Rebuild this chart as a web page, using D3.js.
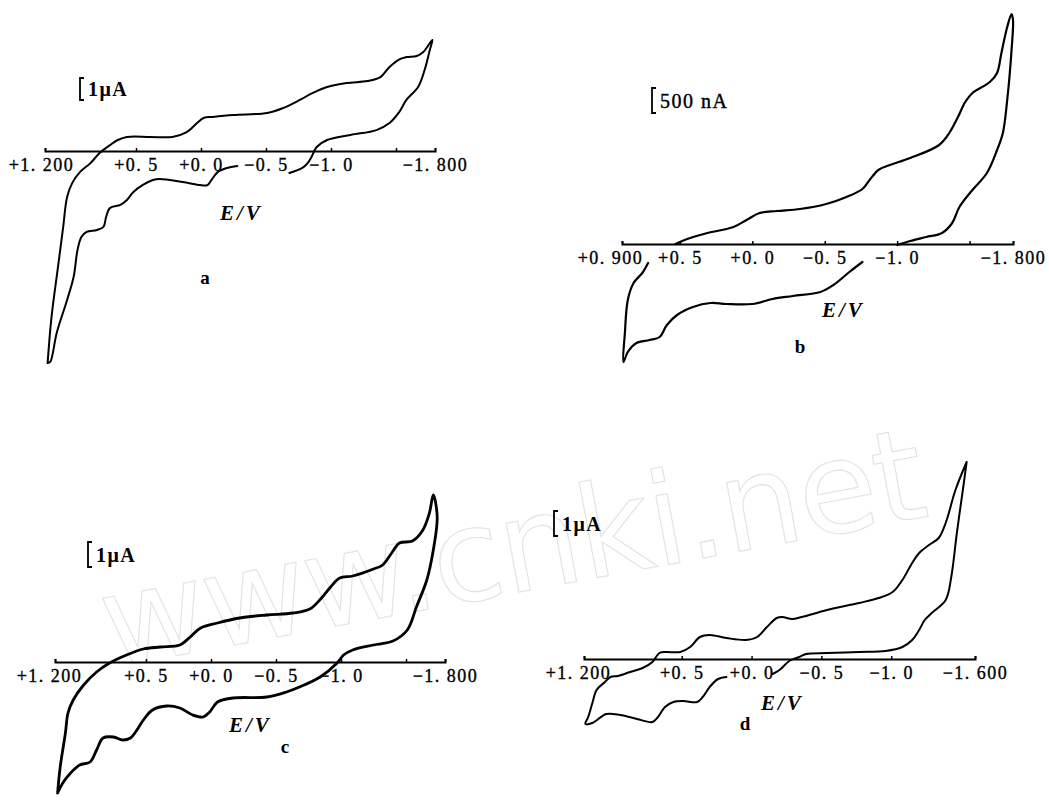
<!DOCTYPE html>
<html>
<head>
<meta charset="utf-8">
<script src="https://cdn.jsdelivr.net/npm/d3@7"></script>
<style>
body { margin: 0; background: #fff; }
</style>
</head>
<body>
<script>
// cyclic voltammograms, potential in V, current in uA; null = gap in the trace
const potentialA = [1.18, 1.15, 1.10, 1.06, 1.03, 0.99, 0.93, 0.85, 0.78, 0.70, 0.64, 0.57, 0.39, 0.22, 0.11, 0.03, -0.02, -0.09, -0.25, -0.51, -0.63, -0.76, -0.86, -0.97, -1.12, -1.28, -1.38, -1.45, -1.53, -1.58, -1.66, -1.71, -1.78, -1.76, -1.72, -1.67, -1.58, -1.52, -1.45, -1.35, -1.15, -0.97, -0.89, -0.85, -0.82, -0.78, -0.68, null, -0.28, -0.20, -0.13, -0.08, -0.05, 0.01, 0.14, 0.32, 0.37, 0.45, 0.52, 0.57, 0.62, 0.70, 0.73, 0.75, 0.80, 0.88, 0.92, 0.95, 0.98, 1.03, 1.11, 1.16, 1.18];
const currentA = [-9.64, -7.55, -5.27, -3.45, -2.09, -1.45, -0.95, -0.55, -0.09, 0.27, 0.50, 0.64, 0.64, 0.64, 0.86, 1.27, 1.50, 1.55, 1.64, 1.73, 1.95, 2.32, 2.64, 2.91, 3.09, 3.18, 3.36, 3.82, 4.18, 4.27, 4.32, 4.50, 5.05, 4.59, 3.68, 2.91, 2.32, 1.73, 1.27, 0.95, 0.73, 0.50, 0.18, -0.27, -0.55, -0.77, -1.00, null, -0.68, -0.77, -0.95, -1.32, -1.55, -1.55, -1.41, -1.27, -1.32, -1.55, -1.86, -2.23, -2.45, -2.59, -3.00, -3.45, -3.59, -3.68, -3.91, -4.50, -5.73, -6.77, -8.27, -9.59, -9.64];

const potentialB = [0.53, 0.45, 0.31, 0.13, 0.04, -0.05, -0.17, -0.33, -0.51, -0.65, -0.76, -0.81, -0.87, -0.95, -1.09, -1.29, -1.36, -1.42, -1.47, -1.52, -1.64, -1.69, -1.72, -1.76, -1.79, -1.80, -1.79, -1.76, -1.73, -1.69, -1.62, -1.52, -1.43, -1.38, -1.31, -1.20, -1.09, -1.00, null, -0.76, -0.67, -0.56, -0.47, -0.28, -0.14, 0.00, 0.18, 0.29, 0.41, 0.52, 0.59, 0.64, 0.71, 0.80, 0.86, 0.89, 0.88, 0.86, 0.82, 0.76, 0.72];
const currentB = [0, 0.10, 0.22, 0.34, 0.48, 0.62, 0.66, 0.70, 0.80, 0.94, 1.10, 1.28, 1.48, 1.58, 1.72, 1.98, 2.22, 2.54, 2.84, 3.02, 3.24, 3.42, 3.82, 4.34, 4.60, 4.48, 3.88, 2.88, 2.22, 1.88, 1.42, 1.08, 0.74, 0.42, 0.22, 0.14, 0.06, -0.02, null, -0.36, -0.56, -0.82, -0.96, -1.04, -1.10, -1.20, -1.20, -1.18, -1.26, -1.42, -1.62, -1.86, -1.92, -1.98, -2.16, -2.36, -1.78, -1.12, -0.78, -0.58, -0.38];

const potentialC = [1.18, 1.16, 1.12, 1.10, 1.06, 0.98, 0.88, 0.78, 0.65, 0.52, 0.39, 0.24, 0.16, 0.08, -0.05, -0.22, -0.43, -0.63, -0.76, -0.85, -0.92, -0.99, -1.09, -1.25, -1.32, -1.39, -1.45, -1.55, -1.63, -1.68, -1.71, -1.74, -1.71, -1.66, -1.58, -1.51, -1.40, -1.25, -1.09, -1.02, -0.97, -0.84, -0.68, -0.58, -0.43, -0.17, -0.05, 0.01, 0.06, 0.14, 0.24, 0.34, 0.45, 0.52, 0.57, 0.62, 0.68, 0.75, 0.83, 0.88, 0.93, 1.01, 1.08, 1.14, 1.18];
const currentC = [-5.24, -4.20, -2.84, -2.04, -1.52, -0.92, -0.40, -0.04, 0.28, 0.52, 0.60, 0.68, 1.00, 1.36, 1.56, 1.76, 1.88, 1.96, 2.12, 2.56, 3.00, 3.36, 3.44, 3.72, 3.88, 4.36, 4.76, 4.84, 5.28, 5.96, 6.68, 5.80, 4.48, 3.28, 2.20, 1.28, 0.84, 0.68, 0.48, 0.28, -0.04, -0.60, -1.00, -1.20, -1.40, -1.44, -1.60, -2.00, -2.20, -2.12, -1.84, -1.76, -1.92, -2.32, -2.72, -3.04, -3.12, -3.00, -3.04, -3.52, -4.00, -4.12, -4.44, -4.84, -5.24];

const potentialD = [-1.54, -1.46, -1.39, -1.34, -1.27, -1.20, -1.15, -1.08, -1.01, -0.91, -0.77, -0.54, -0.36, -0.29, -0.22, -0.18, -0.11, -0.04, 0.04, 0.18, 0.30, 0.37, 0.44, 0.51, 0.61, 0.66, 0.71, 0.78, 0.87, 0.96, 1.01, 1.05, 1.11, 1.14, 1.17, 1.19, 1.14, 1.04, 0.94, 0.82, 0.71, 0.67, 0.62, 0.56, 0.49, 0.39, 0.35, 0.30, 0.24, 0.18, null, -0.15, -0.20, -0.27, -0.34, -0.39, -0.54, -0.77, -0.96, -1.08, -1.15, -1.20, -1.24, -1.29, -1.39, -1.43, -1.47, -1.52, -1.54];
const currentD = [7.88, 6.76, 5.44, 4.84, 4.56, 4.24, 3.84, 3.16, 2.68, 2.44, 2.24, 1.96, 1.68, 1.60, 1.68, 1.64, 1.28, 0.88, 0.76, 0.84, 0.96, 0.88, 0.48, 0.28, 0.28, 0.24, -0.12, -0.36, -0.52, -0.68, -0.72, -0.92, -1.24, -1.76, -2.32, -2.60, -2.56, -2.20, -2.24, -2.40, -2.52, -2.32, -1.92, -1.72, -1.68, -1.72, -1.52, -1.12, -0.80, -0.72, null, -0.60, -0.44, -0.08, 0.08, 0.20, 0.24, 0.28, 0.32, 0.48, 0.76, 1.16, 1.56, 1.84, 2.36, 3.28, 5.04, 7.04, 7.88];

// axis ticks (V) and their printed labels
const ticksA = [1.2, 0.5, 0.0, -0.5, -1.0, -1.5, -1.8];
const tickLabelsA = ['+1. 200', '+0. 5', '+0. 0', '\u22120. 5', '\u22121. 0', '', '\u22121. 800'];
const ticksB = [0.9, 0.5, 0.0, -0.5, -1.0, -1.5, -1.8];
const tickLabelsB = ['+0. 900', '+0. 5', '+0. 0', '\u22120. 5', '\u22121. 0', '', '\u22121. 800'];
const ticksC = [1.2, 0.5, 0.0, -0.5, -1.0, -1.5, -1.8];
const tickLabelsC = ['+1. 200', '+0. 5', '+0. 0', '\u22120. 5', '\u22121. 0', '', '\u22121. 800'];
const ticksD = [1.2, 0.5, 0.0, -0.5, -1.0, -1.6];
const tickLabelsD = ['+1. 200', '+0. 5', '+0. 0', '\u22120. 5', '\u22121. 0', '\u22121. 600'];

// scale bar value (uA) and its text, panel letters
const scaleBars = [1, 0.5, 1, 1];
const scaleTexts = ['1\u03bcA', '500 nA', '1\u03bcA', '1\u03bcA'];
const panelNames = ['a', 'b', 'c', 'd'];

const serif = "'Liberation Serif', 'DejaVu Serif', serif";

const W = 1049, H = 800;
const svg = d3.select('body').append('svg')
    .attr('width', W).attr('height', H)
    .attr('viewBox', `0 0 ${W} ${H}`);

// faint site watermark, drawn first so the traces sit on top
svg.append('text')
    .attr('transform', 'translate(110,668) rotate(-10.5)')
    .attr('font-family', "'DejaVu Sans', sans-serif")
    .attr('font-size', 128)
    .attr('textLength', 835)
    .attr('fill', 'none')
    .attr('stroke', '#e2e2e2')
    .attr('stroke-width', 1.1)
    .text('www.cnki.net');

function drawPanel(p, i) {
    const x = d3.scaleLinear().domain(p.domain).range(p.range);
    const y = d3.scaleLinear().domain([0, 1]).range([p.y0, p.y0 - p.unit]);
    const g = svg.append('g');

    const axis = d3.axisBottom(x)
        .tickValues(p.ticks)
        .tickFormat((d, k) => p.labels[k])
        .tickSizeInner(-3)
        .tickSizeOuter(-3)
        .tickPadding(7);

    const ag = g.append('g')
        .attr('transform', `translate(0,${p.y0})`)
        .call(axis)
        .attr('font-family', serif)
        .attr('font-size', 18);
    ag.select('.domain').attr('stroke-width', 2);
    ag.selectAll('.tick line').attr('stroke-width', 1.5);
    ag.selectAll('.tick text')
        .attr('fill', '#000')
        .attr('stroke', '#000')
        .attr('stroke-width', 0.35)
        .attr('letter-spacing', 1.5)
        .attr('dx', (d, k) => k == 0 ? p.firstDx : 0);

    const pts = p.potential.map((e, k) => [e, p.current[k]]);
    const line = d3.line()
        .defined(d => d[0] != null)
        .x(d => x(d[0]))
        .y(d => y(d[1]))
        .curve(d3.curveCatmullRom.alpha(0.5));

    g.append('path')
        .attr('d', line(pts))
        .attr('fill', 'none')
        .attr('stroke', '#000')
        .attr('stroke-width', p.width)
        .attr('stroke-linejoin', 'round')
        .attr('stroke-linecap', 'round');

    // current scale bar "[" whose height is the bar value on the y scale
    const top = p.barY;
    const h = y(0) - y(scaleBars[i]);
    const bp = d3.path();
    bp.moveTo(p.barX + 4, top);
    bp.lineTo(p.barX, top);
    bp.lineTo(p.barX, top + h);
    bp.lineTo(p.barX + 4, top + h);
    g.append('path').attr('d', bp)
        .attr('fill', 'none').attr('stroke', '#000').attr('stroke-width', 1.8);

    g.append('text')
        .attr('x', p.barX + 8).attr('y', top + h / 2 + 7)
        .attr('font-family', serif).attr('font-size', 20)
        .attr('font-weight', p.barBold ? 'bold' : 'normal')
        .attr('stroke', p.barBold ? 'none' : '#000').attr('stroke-width', 0.4)
        .attr('letter-spacing', 1.5)
        .text(scaleTexts[i]);

    g.append('text')
        .attr('x', p.evX).attr('y', p.evY)
        .attr('font-family', serif).attr('font-size', 21)
        .attr('font-weight', 'bold').attr('font-style', 'italic')
        .attr('letter-spacing', 3)
        .text('E/V');

    g.append('text')
        .attr('x', p.nameX).attr('y', p.nameY)
        .attr('text-anchor', 'middle')
        .attr('font-family', serif).attr('font-size', 19).attr('font-weight', 'bold')
        .text(panelNames[i]);
}

const panels = [
    { potential: potentialA, current: currentA, ticks: ticksA, labels: tickLabelsA,
      domain: [1.2, -1.8], range: [45, 435], y0: 151, unit: 22, width: 2,
      barX: 80, barY: 78, barBold: true, evX: 220, evY: 220, nameX: 205, nameY: 284, firstDx: -4 },
    { potential: potentialB, current: currentB, ticks: ticksB, labels: tickLabelsB,
      domain: [0.9, -1.8], range: [622, 1013], y0: 244, unit: 50, width: 2.2,
      barX: 652, barY: 88, barBold: false, evX: 822, evY: 317, nameX: 800, nameY: 353, firstDx: -12 },
    { potential: potentialC, current: currentC, ticks: ticksC, labels: tickLabelsC,
      domain: [1.2, -1.8], range: [55, 445], y0: 662, unit: 25, width: 2.8,
      barX: 88, barY: 542, barBold: true, evX: 229, evY: 732, nameX: 285, nameY: 753, firstDx: -6 },
    { potential: potentialD, current: currentD, ticks: ticksD, labels: tickLabelsD,
      domain: [1.2, -1.6], range: [584, 975], y0: 659, unit: 25, width: 2,
      barX: 554, barY: 511, barBold: true, evX: 761, evY: 710, nameX: 745, nameY: 730, firstDx: -6 }
];

panels.forEach(drawPanel);
</script>
</body>
</html>
